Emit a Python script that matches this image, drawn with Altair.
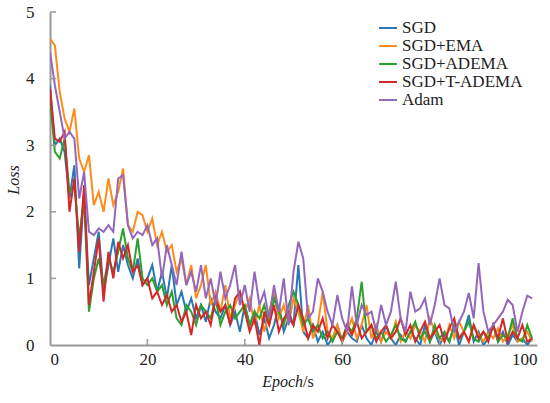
import altair as alt
import pandas as pd

epochs = list(range(100))

sgd = [3.9, 3.0, 3.1, 2.9, 2.2, 2.7, 1.15, 2.3, 0.9, 1.3,
       1.7, 0.8, 1.2, 1.6, 1.1, 1.5, 1.2, 1.0, 1.3, 0.9,
       1.0, 1.2, 0.8, 1.1, 0.7, 1.2, 0.6, 0.8, 0.5, 0.7,
       0.4, 0.6, 0.35, 0.7, 0.5, 0.4, 0.6, 0.3, 0.5, 0.2,
       0.6, 0.3, 0.5, 0.15, 0.4, 0.1, 0.3, 0.6, 0.2, 0.4,
       0.3, 1.2, 0.2, 0.1, 0.3, 0.05, 0.2, 0.0, 0.1, 0.3,
       0.05, 0.2, 0.1, 0.05, 0.3, 0.1, 0.0, 0.2, 0.05, 0.3,
       0.1, 0.0, 0.15, 0.05, 0.2, 0.1, 0.0, 0.3, 0.05, 0.2,
       0.0, 0.15, 0.05, 0.3, 0.0, 0.2, 0.45, 0.05, 0.2, 0.0,
       0.1, 0.3, 0.05, 0.2, 0.0, 0.15, 0.05, 0.1, 0.0, 0.1]

sgd_ema = [4.6, 4.5, 3.8, 3.4, 3.2, 3.55, 2.8, 2.6, 2.85, 2.1,
           2.3, 2.0, 2.5, 2.1, 2.3, 2.65, 1.8, 1.7, 2.0, 1.95,
           1.7, 1.9, 1.5, 1.7, 1.4, 1.5, 1.1, 1.3, 0.9, 1.2,
           0.7, 0.9, 1.2, 0.6, 0.8, 0.5, 0.9, 0.4, 0.6, 0.8,
           0.5, 0.7, 0.3, 0.6, 0.2, 0.5, 0.8, 0.4, 0.6, 0.3,
           0.7, 0.5, 0.2, 0.6, 0.1, 0.3, 0.8, 0.2, 0.1, 0.3,
           0.05, 0.2, 0.4, 0.1, 0.3, 0.6, 0.1, 0.3, 0.05, 0.2,
           0.1, 0.35, 0.05, 0.2, 0.1, 0.3, 0.2, 0.05, 0.4, 0.2,
           0.1, 0.05, 0.3, 0.1, 0.35, 0.2, 0.05, 0.3, 0.15, 0.05,
           0.2, 0.1, 0.25, 0.05, 0.15, 0.3, 0.05, 0.1, 0.2, 0.05]

sgd_adema = [3.7, 2.9, 2.8, 3.1, 2.3, 2.4, 1.6, 2.2, 0.5, 1.0,
             1.3, 0.9, 1.3, 1.1, 1.4, 1.75, 1.3, 1.1, 1.6, 1.0,
             0.9, 1.0, 0.8, 0.9, 0.6, 0.8, 0.4, 0.3, 0.6, 0.5,
             0.3, 0.6, 0.5, 0.4, 0.7, 0.3, 0.5, 0.6, 0.4, 0.5,
             0.6, 0.3, 0.5, 0.4, 0.6, 0.3, 0.7, 0.5, 0.3, 0.6,
             0.8, 0.6, 0.3, 0.4, 0.2, 0.3, 0.1, 0.2, 0.05, 0.2,
             0.1, 0.3, 0.2, 0.4, 0.95, 0.2, 0.3, 0.1, 0.2, 0.05,
             0.15, 0.3, 0.1, 0.05, 0.2, 0.35, 0.1, 0.2, 0.05, 0.3,
             0.1, 0.2, 0.05, 0.3, 0.1, 0.2, 0.35, 0.1, 0.05, 0.2,
             0.1, 0.3, 0.05, 0.15, 0.1, 0.4, 0.1, 0.05, 0.3, 0.1]

sgd_t_adema = [3.85, 3.1, 3.05, 3.2, 2.0, 2.5, 1.4, 2.4, 0.6, 1.1,
               1.6, 0.65, 1.4, 1.0, 1.55, 1.3, 1.5, 1.1, 1.2, 0.9,
               1.0, 0.7, 0.8, 0.6, 0.75, 0.5, 0.6, 0.35, 0.5, 0.15,
               0.6, 0.4, 0.5, 0.3, 0.7, 0.5, 0.6, 0.3, 0.7, 0.8,
               0.5, 0.2, 0.4, 0.0, 0.5, 0.3, 0.6, 0.2, 0.4, 0.5,
               0.3, 0.6, 0.4, 0.1, 0.3, 0.2, 0.4, 0.1, 0.3, 0.2,
               0.05, 0.3, 0.15, 0.35, 0.1, 0.2, 0.3, 0.05, 0.2, 0.3,
               0.1, 0.2, 0.4, 0.15, 0.3, 0.05, 0.2, 0.35, 0.1, 0.2,
               0.3, 0.05, 0.25, 0.4, 0.1, 0.2, 0.05, 0.3, 0.1, 0.2,
               0.05, 0.3, 0.1, 0.4, 0.05, 0.2, 0.1, 0.3, 0.05, 0.1]

adam = [4.4, 3.9, 3.5, 3.1, 3.2, 3.1, 2.2, 2.6, 1.7, 1.65,
        1.75, 1.7, 1.8, 1.7, 2.5, 2.55, 1.8, 1.6, 1.7, 1.65,
        1.8, 1.5, 1.6, 1.0, 1.5, 1.2, 0.9, 1.4, 0.9, 1.1,
        0.8, 1.2, 0.7, 1.0, 0.6, 1.1, 0.7, 0.9, 1.2, 0.6,
        0.9, 0.5, 1.1, 0.6, 0.8, 0.4, 0.9, 0.5, 1.0, 0.3,
        1.1, 1.55, 1.3, 0.4, 0.5, 1.0, 0.8, 0.5, 0.3, 0.75,
        0.4, 0.2, 0.88, 0.3, 0.6, 0.45, 0.5, 0.2, 0.6, 0.3,
        0.5, 0.95, 0.4, 0.2, 0.8, 0.5, 0.55, 0.7, 0.3, 0.6,
        1.0, 0.6, 0.55, 0.2, 0.35, 0.5, 0.78, 0.4, 1.23, 0.5,
        0.2, 0.3, 0.4, 0.5, 0.68, 0.6, 0.2, 0.5, 0.74, 0.7]

series_names = ["SGD", "SGD+EMA", "SGD+ADEMA", "SGD+T-ADEMA", "Adam"]
series_colors = ["#2a77b4", "#ff8c1a", "#2ca02c", "#d62728", "#9467bd"]
series_values = [sgd, sgd_ema, sgd_adema, sgd_t_adema, adam]

x_ticks = [0, 20, 40, 60, 80, 100]
y_ticks = [0, 1, 2, 3, 4, 5]

rows = []
for name, vals in zip(series_names, series_values):
    for e, v in zip(epochs, vals):
        rows.append({"epoch": e, "loss": v, "series": name})
df = pd.DataFrame(rows)

W, H = 487, 333
FONT = "Times New Roman, Liberation Serif, serif"

xscale = alt.Scale(domain=[0, 100], nice=False)
yscale = alt.Scale(domain=[0, 5], nice=False)

lines = alt.Chart(df).mark_line(strokeWidth=2, clip=True).encode(
    x=alt.X("epoch:Q", scale=xscale,
            axis=alt.Axis(values=x_ticks, title=None, grid=False, ticks=False,
                          format="d",
                          domainColor="#999999", domainWidth=2,
                          labelFont=FONT, labelFontSize=17, labelColor="#222222",
                          labelPadding=6)),
    y=alt.Y("loss:Q", scale=yscale,
            axis=alt.Axis(values=y_ticks, title=None, grid=False, ticks=False,
                          format="d",
                          domainColor="#999999", domainWidth=2,
                          labelFont=FONT, labelFontSize=17, labelColor="#222222",
                          labelPadding=16)),
    color=alt.Color("series:N",
                    scale=alt.Scale(domain=series_names, range=series_colors),
                    legend=alt.Legend(title=None, orient="none", legendX=328, legendY=6,
                                      symbolType="stroke", symbolStrokeWidth=2,
                                      symbolSize=320, labelFont=FONT, labelFontSize=17,
                                      labelColor="#222222", rowPadding=0,
                                      labelOffset=4)),
    order="series:N",
)

ytick_df = pd.DataFrame({"v": y_ticks[1:]})
yt = alt.Chart(ytick_df).mark_rule(color="#999999", strokeWidth=1.5).encode(
    y=alt.Y("v:Q", scale=yscale), x=alt.value(0), x2=alt.value(6))
xtick_df = pd.DataFrame({"v": x_ticks[1:-1]})
xt = alt.Chart(xtick_df).mark_rule(color="#999999", strokeWidth=1.5).encode(
    x=alt.X("v:Q", scale=xscale), y=alt.value(H), y2=alt.value(H - 6))

one = pd.DataFrame({"a": [0]})
t1 = alt.Chart(one).mark_text(font=FONT, fontSize=16, fontStyle="italic", align="right",
                              baseline="middle", color="#222222").encode(
    x=alt.value(253), y=alt.value(370), text=alt.value("Epoch"))
t2 = alt.Chart(one).mark_text(font=FONT, fontSize=16, align="left",
                              baseline="middle", color="#222222").encode(
    x=alt.value(253), y=alt.value(370), text=alt.value("/s"))
t3 = alt.Chart(one).mark_text(font=FONT, fontSize=16, fontStyle="italic", align="center",
                              baseline="middle", angle=270, color="#222222").encode(
    x=alt.value(-36), y=alt.value(168), text=alt.value("Loss"))

chart = alt.layer(lines, yt, xt, t1, t2, t3).properties(
    width=W, height=H,
    autosize=alt.AutoSizeParams(type="none"),
    padding={"left": 50, "top": 12, "right": 13, "bottom": 58},
    background="white",
).configure_view(stroke=None)

chart.save("out.html", embed_options={"renderer": "svg", "actions": False})
